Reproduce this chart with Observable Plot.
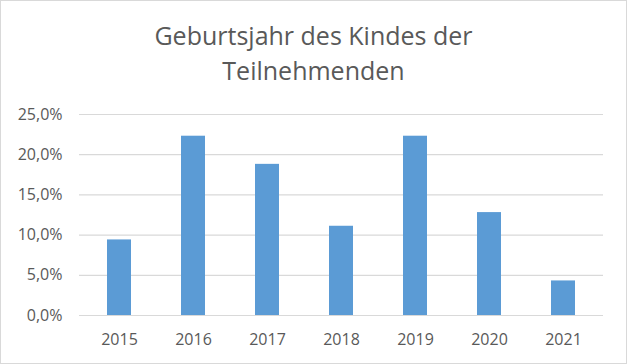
<!DOCTYPE html>
<html>
<head>
<meta charset="utf-8">
<script src="https://cdn.jsdelivr.net/npm/d3@7"></script>
<script src="https://cdn.jsdelivr.net/npm/@observablehq/plot@0.6"></script>
<style>
  html, body { margin: 0; padding: 0; background: #fff; }
  #chart {
    position: relative; width: 627px; height: 364px; box-sizing: border-box;
    border: 1px solid #d9d9d9; background: #fff; overflow: hidden;
    font-family: "Open Sans", sans-serif;
  }
  #title {
    height: 99px; box-sizing: border-box; padding-top: 17px;
    text-align: center; color: #595959; font-size: 25px; line-height: 35px;
  }
  #plot svg { display: block; }
</style>
</head>
<body>
<div id="chart">
  <div id="title">Geburtsjahr des Kindes der<br>Teilnehmenden</div>
  <div id="plot"></div>
</div>
<script>
const years = ["2015", "2016", "2017", "2018", "2019", "2020", "2021"];
const shares = [0.094, 0.223, 0.188, 0.111, 0.223, 0.128, 0.043];
const yTicks = [0, 0.05, 0.10, 0.15, 0.20, 0.25];

const data = years.map((y, i) => ({year: y, share: shares[i]}));
const fmt = d => (d * 100).toFixed(1).replace(".", ",") + "%";

const chart = Plot.plot({
  width: 625,
  height: 263,
  marginTop: 14,
  marginBottom: 48,
  marginLeft: 78,
  marginRight: 23,
  style: {fontFamily: "Open Sans, sans-serif", fontSize: "16px", color: "#595959", background: "#fff"},
  x: {domain: years, paddingInner: 0.68, paddingOuter: 0.34, label: null},
  y: {domain: [0, 0.25], label: null},
  marks: [
    Plot.ruleY(yTicks, {stroke: "#d9d9d9", strokeWidth: 1.2}),
    Plot.barY(data, {x: "year", y: "share", fill: "#5B9BD5"}),
    Plot.axisX({tickSize: 0, tickPadding: 18, label: null, fontSize: 16, fill: "#595959"}),
    Plot.axisY({ticks: yTicks, tickFormat: fmt, tickSize: 0, tickPadding: 17, label: null, fontSize: 16, fill: "#595959"})
  ]
});
document.getElementById("plot").appendChild(chart);
</script>
</body>
</html>
